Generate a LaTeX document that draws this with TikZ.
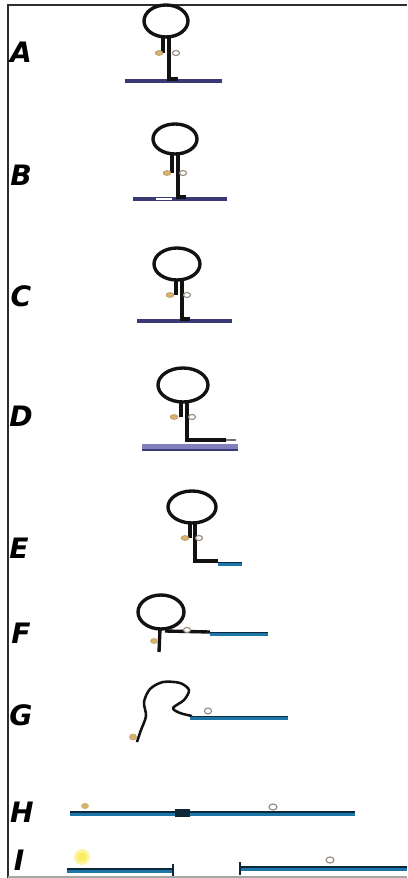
\documentclass[tikz,border=0pt]{standalone}
\usepackage{fontspec}
\setmainfont{DejaVu Sans}
\usetikzlibrary{positioning}
\definecolor{stemclr}{RGB}{18,18,18}
\definecolor{frameclr}{RGB}{45,45,45}
\definecolor{navyclr}{RGB}{58,58,118}
\definecolor{lavclr}{RGB}{128,128,188}
\definecolor{blueclr}{RGB}{28,118,168}
\definecolor{coreclr}{RGB}{12,38,58}
\definecolor{beadclr}{RGB}{214,178,108}
\definecolor{ringclr}{RGB}{150,138,126}
\definecolor{glowclr}{RGB}{250,238,100}

\tikzset{
  steplabel/.style={font=\fontsize{20}{20}\selectfont\bfseries\itshape, inner sep=0pt},
  loopline/.style={draw=stemclr, line width=2.4pt},
  stemline/.style={draw=stemclr, line width=2.4pt},
  navyline/.style={draw=navyclr, line width=2.4pt},
  blueline/.style={draw=blueclr, line width=3pt},
  coreline/.style={draw=coreclr, line width=1.4pt},
  bead/.style={fill=beadclr, draw=beadclr!80!black, line width=0.3pt},
  ring/.style={draw=ringclr, line width=0.8pt, fill=white},
}

\begin{document}
\begin{tikzpicture}[x=0.025cm, y=-0.025cm]
  \clip (0,0) rectangle (407,878);
  \fill[white] (0,0) rectangle (407,878);
  % frame
  \draw[frameclr, line width=1.5pt] (8,878) -- (8,5) -- (407,5);
  \draw[black!35, line width=0.8pt] (8,877) -- (407,877);

  % step letters
  \node[steplabel] (lblA) at (21,52)  {A};
  \node[steplabel] (lblB) at (21,175) {B};
  \node[steplabel] (lblC) at (21,296) {C};
  \node[steplabel] (lblD) at (21,416) {D};
  \node[steplabel] (lblE) at (19,548) {E};
  \node[steplabel] (lblF) at (21,633) {F};
  \node[steplabel] (lblG) at (21,715) {G};
  \node[steplabel] (lblH) at (22,812) {H};
  \node[steplabel] (lblI) at (19,860) {I};

  % A
  \draw[navyline] (125,81) -- (222,81);
  \draw[loopline] (166,21) ellipse (22 and 16);
  \draw[stemline] (163,36) -- (163,53);
  \draw[stemline] (169,36) -- (169,79) -- (178,79);
  \fill[bead] (159,53) ellipse (4 and 2.5);
  \draw[ring] (176,53) ellipse (3.5 and 2.5);

  % B
  \draw[navyline] (133,199) -- (227,199);
  \draw[white, line width=1.2pt] (156,199) -- (172,199);
  \draw[loopline] (175,139) ellipse (22 and 15);
  \draw[stemline] (172,154) -- (172,173);
  \draw[stemline] (178,154) -- (178,197) -- (186,197);
  \fill[bead] (167,173) ellipse (4 and 2.5);
  \draw[ring] (183,173) ellipse (3.5 and 2.5);

  % C
  \draw[navyline] (137,321) -- (232,321);
  \draw[loopline] (177,264) ellipse (23 and 16);
  \draw[stemline] (176,280) -- (176,295);
  \draw[stemline] (182,280) -- (182,319) -- (190,319);
  \fill[bead] (170,295) ellipse (4 and 2.5);
  \draw[ring] (187,295) ellipse (3.5 and 2.5);

  % D
  \fill[lavclr] (142,444) rectangle (238,451);
  \draw[navyclr, line width=0.8pt] (142,450) -- (238,450);
  \draw[loopline] (183,385) ellipse (25 and 17);
  \draw[stemline] (181,402) -- (181,417);
  \draw[stemline] (187,402) -- (187,440) -- (226,440);
  \draw[black!55, line width=2pt] (226,440) -- (236,440);
  \fill[bead] (174,417) ellipse (4 and 2.5);
  \draw[ring] (192,417) ellipse (3.5 and 2.5);

  % E
  \draw[loopline] (192,507) ellipse (24 and 16);
  \draw[stemline] (190,523) -- (190,538);
  \draw[stemline] (195,523) -- (195,561) -- (218,561);
  \draw[blueline] (218,564) -- (242,564);
  \draw[coreline] (218,562.5) -- (242,562.5);
  \fill[bead] (185,538) ellipse (4 and 2.5);
  \draw[ring] (199,538) ellipse (3.5 and 2.5);

  % F
  \draw[loopline] (161,612) ellipse (23 and 17);
  \draw[stemline] (160,629) -- (159,652);
  \draw[stemline] (165,631) -- (210,632);
  \draw[blueline] (210,634) -- (268,634);
  \draw[coreline] (206,632.5) -- (268,632.5);
  \fill[bead] (154,641) ellipse (3.5 and 2.5);
  \draw[ring] (187,630) ellipse (3.5 and 2.5);

  % G
  \draw[stemline, line width=1.8pt, line join=round]
    plot[smooth] coordinates {(137,742) (141,730) (146,716) (144,702) (150,689)
      (163,682) (180,683) (189,690) (184,700) (173,708) (180,713) (192,716)};
  \draw[blueline] (190,718) -- (288,718);
  \draw[coreline] (190,716.5) -- (288,716.5);
  \fill[bead] (133,737) ellipse (3.5 and 3);
  \draw[ring] (208,711) ellipse (3.5 and 3);

  % H
  \draw[blueline, line width=3.5pt] (70,814) -- (355,814);
  \draw[coreline, line width=1.8pt] (70,812) -- (355,812);
  \fill[coreclr] (175,809) rectangle (190,817);
  \fill[beadclr] (85,806) ellipse (4 and 3);
  \draw[ring] (273,807) ellipse (4 and 3);

  % I
  \fill[glowclr!60] (82,857) circle (8);
  \fill[glowclr] (82,857) circle (5);
  \draw[blueline, line width=3.5pt] (67,871) -- (173,871);
  \draw[coreline, line width=1.8pt] (67,869) -- (173,869);
  \draw[coreline, line width=1.4pt] (173,864) -- (173,876);
  \draw[blueline, line width=3.5pt] (240,869) -- (407,869);
  \draw[coreline, line width=1.8pt] (240,867) -- (407,867);
  \draw[coreline, line width=1.4pt] (240,862) -- (240,875);
  \draw[ring] (330,860) ellipse (4 and 3);
\end{tikzpicture}
\end{document}
